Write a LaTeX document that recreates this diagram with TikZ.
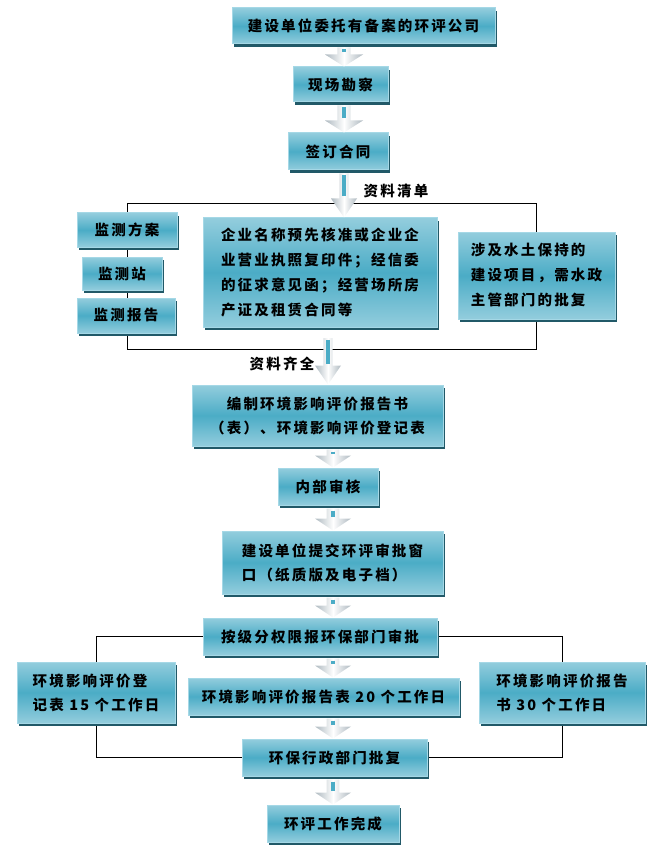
\documentclass[tikz,border=0pt]{standalone}
\usepackage{fontspec}
\setmainfont{Noto Sans CJK SC}[LetterSpace=15]
\usetikzlibrary{shadows,backgrounds,calc}

\definecolor{boxtop}{HTML}{93CDDD}
\definecolor{boxmid}{HTML}{4BACC6}
\definecolor{boxline}{HTML}{A5D8E6}
\definecolor{boxshade}{HTML}{215968}
\definecolor{arrowgray}{HTML}{AEB9C0}

\tikzset{
  flowbox/.style={draw=boxline, line width=1pt, top color=boxtop, bottom color=boxtop,
    middle color=boxmid, inner sep=0pt, align=center,
    font=\bfseries\fontsize{14.5}{24}\selectfont,
    drop shadow={shadow xshift=2pt, shadow yshift=-3pt, fill=boxshade, opacity=1}},
  tag/.style={inner sep=0pt, font=\bfseries\fontsize{14.5}{24}\selectfont},
  qdline/.style={black, line width=0.8pt},
  arrowbody/.style={left color=arrowgray, right color=arrowgray, middle color=white},
  arrowstripe/.style={draw=boxmid, line width=4pt},
}

% #1 head half width, #2 head length, #3 from, #4 to
\newcommand{\flowarrow}[4]{%
  \path[arrowbody] let \p1=(#3), \p2=(#4) in
    ({\x2-0.35*#1},{\y1-3}) -- ({\x2+0.35*#1},{\y1-3}) -- ({\x2+0.35*#1},{\y2+#2})
    -- ({\x2+#1},{\y2+#2}) -- (\x2,\y2) -- ({\x2-#1},{\y2+#2})
    -- ({\x2-0.35*#1},{\y2+#2}) -- cycle;
  \path[arrowstripe] let \p1=(#3), \p2=(#4) in
    (\x2,{\y1-5}) -- (\x2,{\y2+#2+2});
}

\begin{document}
\begin{tikzpicture}[x=1pt, y=-1pt]
  \useasboundingbox (0,0) rectangle (666,850);

  % arrow columns
  \coordinate (upx) at (344,0);
  \coordinate (lox) at (333,0);
  \coordinate (qq) at (328,335);
  \coordinate (qdtop) at (0,203);
  \coordinate (qdbot) at (0,349);

  % main column
  \node[flowbox, minimum width=263, minimum height=36] (wt) at (363.5,26) {建设单位委托有备案的环评公司};
  \node[flowbox, minimum width=95, minimum height=35] (xc) at (340.5,84.5) {现场勘察};
  \node[flowbox, minimum width=100, minimum height=37] (ht) at (338,151.5) {签订合同};

  % materials
  \node[flowbox, minimum width=100, minimum height=34] (fa) at (127,230) {监测方案};
  \node[flowbox, minimum width=80, minimum height=33] (zd) at (122,273.5) {监测站};
  \node[flowbox, minimum width=98, minimum height=35] (bg) at (126,315.5) {监测报告};
  \node[flowbox, align=left, font=\bfseries\fontsize{14.5}{25}\selectfont,
    minimum width=234, minimum height=109] (zl) at (320,272.5)
    {企业名称预先核准或企业企\\业营业执照复印件；经信委\\的征求意见函；经营场所房\\产证及租赁合同等};
  \node[flowbox, align=left, font=\bfseries\fontsize{14.5}{25}\selectfont,
    minimum width=157, minimum height=87] (sb) at (536.5,275.5)
    {涉及水土保持的\\建设项目，需水政\\主管部门的批复};
  \node[tag] (qd) at (396,191) {资料清单};
  \node[tag] (qt) at (282,364) {资料齐全};

  \node[flowbox, minimum width=251, minimum height=61] (bz) at (317.5,415.5)
    {编制环境影响评价报告书\\（表）、环境影响评价登记表};
  \node[flowbox, minimum width=100, minimum height=37] (sh) at (328,486.5) {内部审核};
  \node[flowbox, align=left, minimum width=221, minimum height=63] (tj) at (332.5,562.5)
    {建设单位提交环评审批窗\\口（纸质版及电子档）};
  \node[flowbox, minimum width=234, minimum height=37] (sp) at (320,636.5) {按级分权限报环保部门审批};
  \node[flowbox, minimum width=271, minimum height=37] (bgb) at (323.5,696.5) {环境影响评价报告表 20 个工作日};
  \node[flowbox, minimum width=185, minimum height=37] (pf) at (334.5,757.5) {环保行政部门批复};
  \node[flowbox, minimum width=132, minimum height=37] (wc) at (333,823.5) {环评工作完成};

  % side boxes
  \node[flowbox, align=left, minimum width=158, minimum height=61] (djb) at (96,692.5)
    {环境影响评价登\\记表 15 个工作日};
  \node[flowbox, align=left, minimum width=166, minimum height=61] (bgs) at (562,692.5)
    {环境影响评价报告\\书 30 个工作日};

  % frame lines
  \begin{scope}[on background layer]
    \draw[qdline] (fa.center |- qdtop) -| (sb.center |- qdbot) -| (fa.center |- qdtop);
    \draw[qdline] (sp.west) -| (djb.center) |- (pf.west);
    \draw[qdline] (sp.east) -| (bgs.center) |- (pf.east);
  \end{scope}

  % block arrows
  \flowarrow{19}{12}{wt.south}{xc.north -| upx}
  \flowarrow{19}{12}{xc.south}{ht.north -| upx}
  \flowarrow{13}{19}{ht.south}{zl.north -| upx}
  \flowarrow{13}{19}{qq}{qq |- bz.north}
  \flowarrow{18}{12}{bz.south}{sh.north -| lox}
  \flowarrow{18}{12}{sh.south}{tj.north -| lox}
  \flowarrow{18}{12}{tj.south}{sp.north -| lox}
  \flowarrow{18}{12}{sp.south}{bgb.north -| lox}
  \flowarrow{18}{12}{bgb.south}{pf.north -| lox}
  \flowarrow{18}{12}{pf.south}{wc.north -| lox}
\end{tikzpicture}
\end{document}
